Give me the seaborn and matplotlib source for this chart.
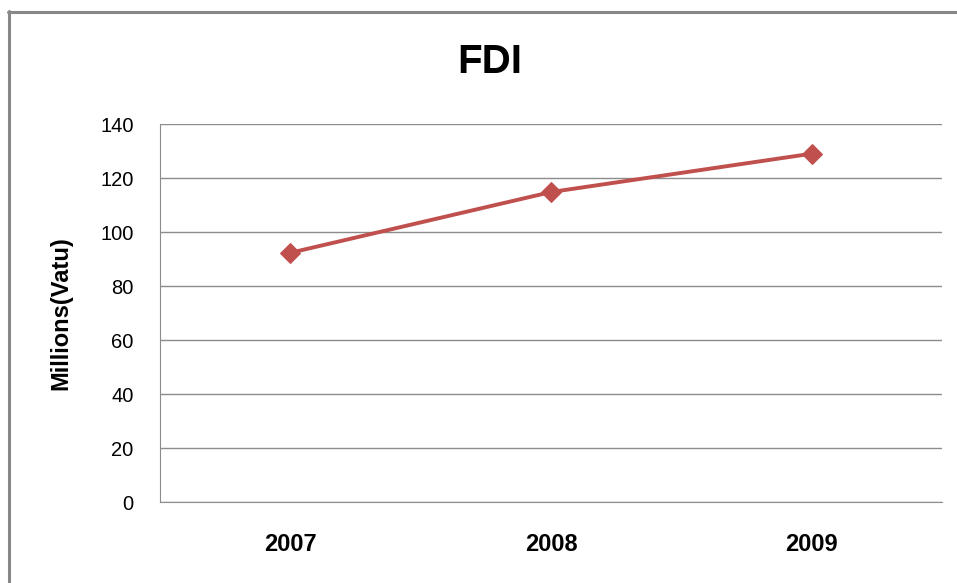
import pandas as pd
import matplotlib
matplotlib.use("Agg")
import matplotlib.pyplot as plt
import seaborn as sns
from matplotlib.lines import Line2D

years = ["2007", "2008", "2009"]
fdi = [92.3, 114.8, 129.0]

df = pd.DataFrame({"Year": years, "FDI": fdi})

sns.set_style("white")
plt.rcParams['font.family'] = ['Liberation Sans', 'DejaVu Sans']
plt.rcParams['text.color'] = 'black'

fig = plt.figure(figsize=(9.57, 5.83), dpi=100)
ax = fig.add_axes([160 / 957, 81 / 583, 782 / 957, 378 / 583])

sns.lineplot(data=df, x="Year", y="FDI", ax=ax, color="#C0504D", linewidth=2.8,
             marker="D", markersize=10.5, markeredgecolor="#C0504D", sort=False)

ax.set_xlim(-0.5, 2.5)
ax.set_ylim(0, 140)
ax.set_yticks(range(0, 141, 20))
ax.yaxis.grid(True, color="#8c8c8c", linewidth=1)
ax.set_axisbelow(True)
for side in ["top", "right"]:
    ax.spines[side].set_visible(False)
ax.spines["left"].set_color("#8c8c8c")
ax.spines["bottom"].set_color("#8c8c8c")
ax.tick_params(axis="both", length=0, colors="black")
ax.tick_params(axis="y", pad=19, labelsize=14.5)
ax.tick_params(axis="x", pad=22, labelsize=17)
for lbl in ax.get_xticklabels():
    lbl.set_fontweight("bold")
ax.set_xlabel("")
ax.set_ylabel("Millions(Vatu)", fontsize=17, fontweight="bold", labelpad=20, color="black")

fig.text(490 / 957, 1 - 62 / 583, "FDI", fontsize=29, fontweight="bold",
         ha="center", va="center", color="black")

# chart frame (left and top edges visible)
fig.add_artist(Line2D([9 / 957, 9 / 957], [0, 1 - 11 / 583], transform=fig.transFigure,
                      color="#888888", linewidth=2.2))
fig.add_artist(Line2D([8 / 957, 1], [1 - 12 / 583, 1 - 12 / 583], transform=fig.transFigure,
                      color="#888888", linewidth=2.2))

fig.savefig("out.png", dpi=100)
